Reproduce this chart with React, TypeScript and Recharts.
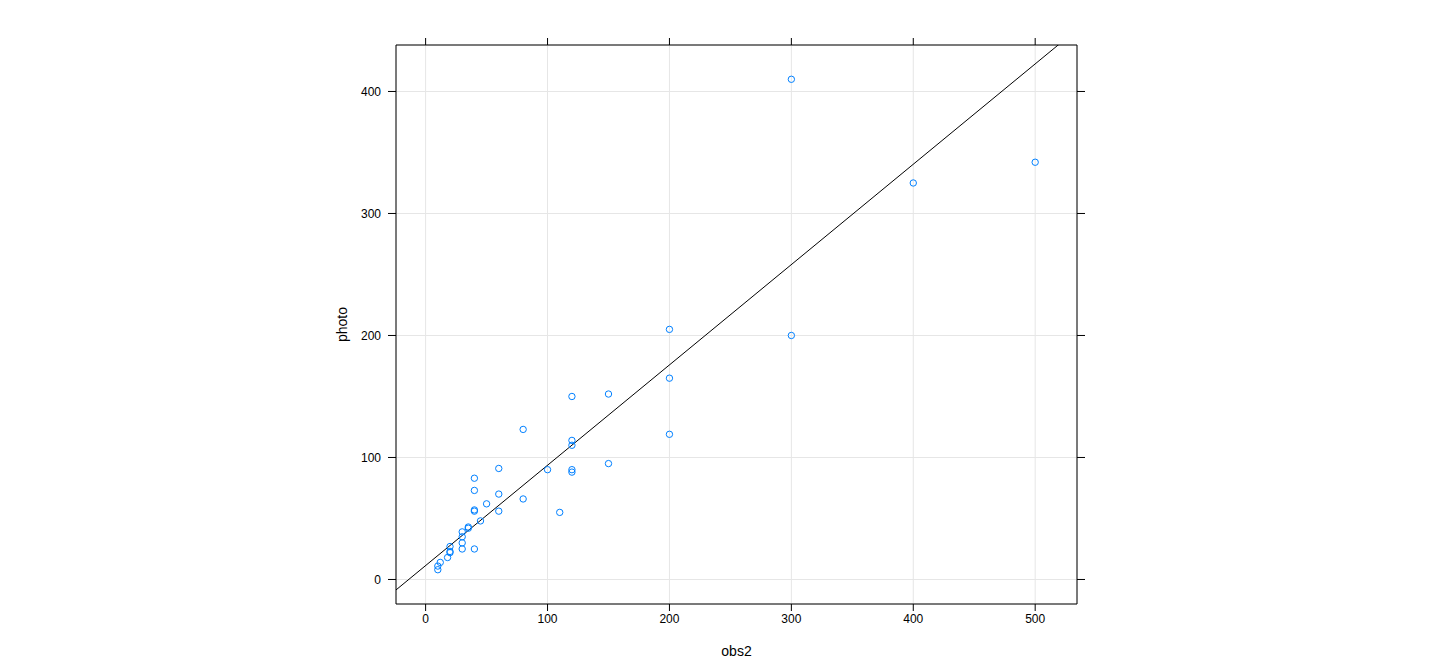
import React from 'react';
import {
  ScatterChart, Scatter, XAxis, YAxis, CartesianGrid, ReferenceLine,
} from 'recharts';

// observations: obs2 vs photo
const obs2 = [
  10, 10, 12, 18, 20, 20, 20, 30, 30, 30, 30, 35, 35, 40, 45, 40, 40, 60, 50, 80,
  60, 40, 40, 110, 100, 120, 120, 150, 60, 120, 120, 80, 120, 150, 200, 200, 200, 300, 300, 400, 500,
];
const photo = [
  8, 11, 14, 18, 22, 23, 27, 25, 30, 35, 39, 42, 43, 25, 48, 56, 57, 56, 62, 66,
  70, 73, 83, 55, 90, 88, 90, 95, 91, 110, 114, 123, 150, 152, 119, 165, 205, 200, 410, 325, 342,
];

// fitted line photo = a + b * obs2
const fitIntercept = 11.4;
const fitSlope = 0.8224;

const xTicks = [0, 100, 200, 300, 400, 500];
const yTicks = [0, 100, 200, 300, 400];
const xDomain = [-24.3, 534.3];
const yDomain = [-20.1, 438.1];

const points = obs2.map((x, i) => ({ obs2: x, photo: photo[i] }));

const font = 'Liberation Sans, Arial, sans-serif';
const tickStyle = { fontSize: 12, fill: '#000', fontFamily: font };

function Ring(props: any) {
  const { cx, cy } = props;
  if (cx == null || cy == null) return null;
  return <circle cx={cx} cy={cy} r={3.2} fill="none" stroke="#0080ff" strokeWidth={1} />;
}

// tick marks only, no label (top and right sides)
const NoLabel = () => <g />;
const NoShape = () => <g />;

export default function App() {
  return (
    <div style={{ position: 'absolute', left: 0, top: 0, background: '#fff' }}>
      <ScatterChart width={1440} height={672} margin={{ top: 25, right: 343, bottom: 12, left: 330 }}>
        <CartesianGrid stroke="#e6e6e6" strokeWidth={1} />
        <XAxis
          dataKey="obs2" type="number" domain={xDomain} ticks={xTicks} allowDataOverflow
          height={56} tickSize={7} tickMargin={3} tick={tickStyle}
          axisLine={{ stroke: '#000' }} tickLine={{ stroke: '#000' }}
          label={{ value: 'obs2', position: 'insideBottom', offset: 4, style: { fontSize: 14, fill: '#000', fontFamily: font } }}
        />
        <XAxis
          xAxisId="top" orientation="top" dataKey="obs2" type="number" domain={xDomain} ticks={xTicks} allowDataOverflow
          height={20} tickSize={7} tick={NoLabel}
          axisLine={{ stroke: '#000' }} tickLine={{ stroke: '#000' }}
        />
        <YAxis
          dataKey="photo" type="number" domain={yDomain} ticks={yTicks} allowDataOverflow
          width={66} tickSize={8} tickMargin={7} tick={tickStyle}
          axisLine={{ stroke: '#000' }} tickLine={{ stroke: '#000' }}
          label={{ value: 'photo', angle: -90, position: 'insideLeft', offset: 12, style: { fontSize: 14, fill: '#000', fontFamily: font, textAnchor: 'middle' } }}
        />
        <YAxis
          yAxisId="right" orientation="right" dataKey="photo" type="number" domain={yDomain} ticks={yTicks} allowDataOverflow
          width={20} tickSize={8} tick={NoLabel}
          axisLine={{ stroke: '#000' }} tickLine={{ stroke: '#000' }}
        />
        <ReferenceLine
          segment={[
            { x: xDomain[0], y: fitIntercept + fitSlope * xDomain[0] },
            { x: xDomain[1], y: fitIntercept + fitSlope * xDomain[1] },
          ]}
          stroke="#000" strokeWidth={1} ifOverflow="hidden"
        />
        <Scatter data={points} xAxisId="top" yAxisId="right" shape={<NoShape />} isAnimationActive={false} />
        <Scatter data={points} shape={<Ring />} isAnimationActive={false} />
      </ScatterChart>
    </div>
  );
}
